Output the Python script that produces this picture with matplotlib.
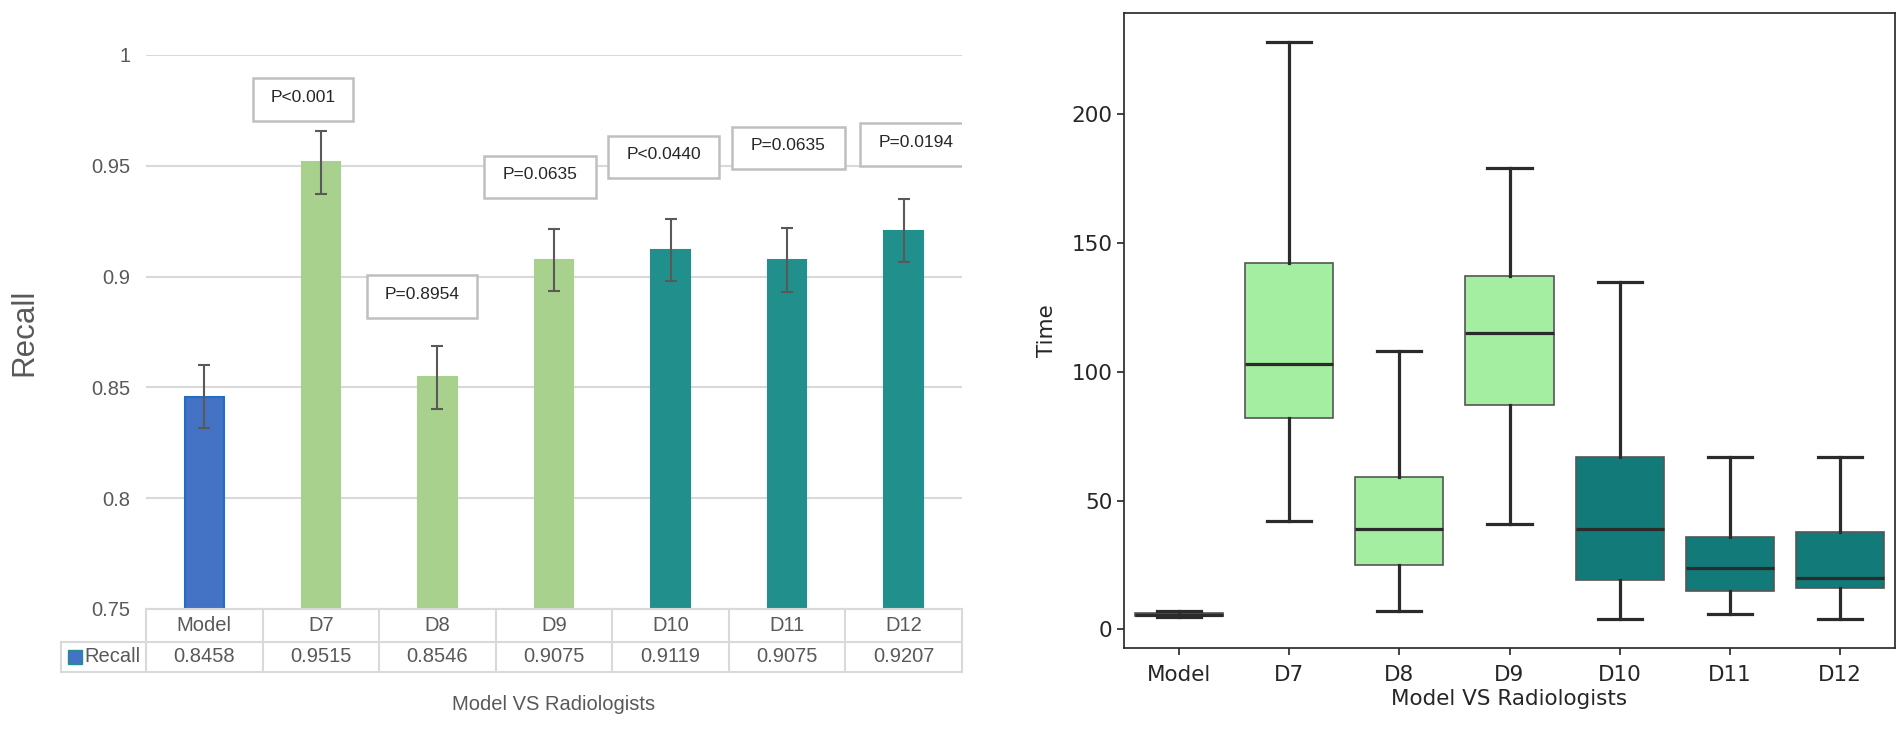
import numpy as np
import matplotlib.pyplot as plt
import matplotlib.transforms as mtransforms
from matplotlib.patches import Rectangle

categories = ["Model", "D7", "D8", "D9", "D10", "D11", "D12"]

# left: recall with error bars
recall = [0.8458, 0.9515, 0.8546, 0.9075, 0.9119, 0.9075, 0.9207]
recall_err = [0.0143, 0.0142, 0.0142, 0.0141, 0.0141, 0.0143, 0.0142]
p_labels = ["P<0.001", "P=0.8954", "P=0.0635", "P<0.0440", "P=0.0635", "P=0.0194"]
recall_ticks = [0.75, 0.8, 0.85, 0.9, 0.95, 1.0]
recall_tick_labels = ["0.75", "0.8", "0.85", "0.9", "0.95", "1"]

# right: reading time box plots
time_wlo = [5.0, 42, 7, 41, 4, 6, 4]
time_q1 = [5.3, 82, 25, 87, 19, 15, 16]
time_med = [5.6, 103, 39, 115, 39, 24, 20]
time_q3 = [6.5, 142, 59, 137, 67, 36, 38]
time_whi = [7.0, 228, 108, 179, 135, 67, 67]

# annotation box layout (x centre, y centre, width) in data units
p_pos = [(0.85, 0.980, 0.86), (1.87, 0.891, 0.94), (2.88, 0.945, 0.96),
         (3.94, 0.954, 0.95), (5.01, 0.958, 0.97), (6.11, 0.9595, 0.97)]

bar_colors = ["#4472C4", "#A9D18E", "#A9D18E", "#A9D18E", "#21908C", "#21908C", "#21908C"]
bar_edges = ["#1F6FC5", "#A9D18E", "#A9D18E", "#A9D18E", "#21908C", "#21908C", "#21908C"]
box_colors = ["#4a4a4a", "#a3eea0", "#a3eea0", "#a3eea0", "#127a78", "#127a78", "#127a78"]

grey = "#595959"
line_grey = "#d9d9d9"

fig = plt.figure(figsize=(19.02, 7.29), dpi=100)

# ---------------- left panel (Excel-like) ----------------
ax1 = fig.add_axes([146 / 1902, 1 - 609 / 729, 816 / 1902, 554 / 729])
x = np.arange(len(categories))
ax1.bar(x, recall, width=0.33, color=bar_colors, edgecolor=bar_edges, linewidth=1.5,
        yerr=recall_err, capsize=4,
        error_kw=dict(ecolor=grey, elinewidth=1.5, capthick=1.5), zorder=2)
ax1.set_xlim(-0.5, len(categories) - 0.5)
ax1.set_ylim(0.75, 1.0)
ax1.set_yticks(recall_ticks)
ax1.set_yticklabels(recall_tick_labels, family="Liberation Sans", fontsize=14.5, color=grey)
ax1.tick_params(axis="y", length=0, pad=11)
ax1.set_xticks([])
ax1.yaxis.grid(True, color=line_grey, linewidth=1.5)
ax1.set_axisbelow(True)
for s in ax1.spines.values():
    s.set_visible(False)

for lab, (cx, cy, w) in zip(p_labels, p_pos):
    h = 0.0192
    ax1.add_patch(Rectangle((cx - w / 2, cy - h / 2), w, h, facecolor="white",
                            edgecolor="#bfbfbf", linewidth=1.8, zorder=4))
    ax1.text(cx, cy + 0.001, lab, ha="center", va="center", fontsize=12.5,
             family="Liberation Sans", color="#262626", zorder=5)

# data table under the chart
trans = mtransforms.blended_transform_factory(ax1.transData, ax1.transAxes)
y_top, y_mid, y_bot = 0.0, -33 / 554, -63 / 554
x_leg = -1.23
lkw = dict(color=line_grey, linewidth=1.5, transform=trans, clip_on=False)
ax1.plot([-0.5, 6.5], [y_top, y_top], **lkw)
ax1.plot([x_leg, 6.5], [y_mid, y_mid], **lkw)
ax1.plot([x_leg, 6.5], [y_bot, y_bot], **lkw)
ax1.plot([x_leg, x_leg], [y_mid, y_bot], **lkw)
for k in range(len(categories) + 1):
    ax1.plot([k - 0.5, k - 0.5], [y_top, y_bot], **lkw)
for i, (c, v) in enumerate(zip(categories, recall)):
    ax1.text(i, (y_top + y_mid) / 2, c, ha="center", va="center", fontsize=14.5,
             family="Liberation Sans", color=grey, transform=trans)
    ax1.text(i, (y_mid + y_bot) / 2, f"{v:.4f}", ha="center", va="center", fontsize=14.5,
             family="Liberation Sans", color=grey, transform=trans)
ax1.plot([-1.11], [(y_mid + y_bot) / 2], marker="s", markersize=10,
         markerfacecolor="#4472C4", markeredgecolor="#21908C", markeredgewidth=1,
         transform=trans, clip_on=False, linestyle="none")
ax1.text(-1.03, (y_mid + y_bot) / 2, "Recall", ha="left", va="center", fontsize=14.5,
         family="Liberation Sans", color=grey, transform=trans)

ax1.text(0.5, -0.172, "Model VS Radiologists", ha="center", va="center", fontsize=14.5,
         family="Liberation Sans", color=grey, transform=ax1.transAxes)
ax1.text(-0.1495, 0.5, "Recall", ha="center", va="center", rotation=90, fontsize=22.5,
         family="Liberation Sans", color=grey, transform=ax1.transAxes)

# ---------------- right panel (seaborn-like box plot) ----------------
ax2 = fig.add_axes([1124 / 1902, 81 / 729, 771 / 1902, 635 / 729])
stats = []
for i, c in enumerate(categories):
    stats.append(dict(label=c, whislo=time_wlo[i], q1=time_q1[i], med=time_med[i],
                      q3=time_q3[i], whishi=time_whi[i], fliers=[]))
dark = "#2b2b2b"
bp = ax2.bxp(stats, positions=x, widths=0.8, patch_artist=True, showfliers=False,
             capwidths=0.4,
             boxprops=dict(edgecolor="#555555", linewidth=1.2),
             whiskerprops=dict(color=dark, linewidth=2.3),
             capprops=dict(color=dark, linewidth=2.3),
             medianprops=dict(color=dark, linewidth=2.3))
for patch, col in zip(bp["boxes"], box_colors):
    patch.set_facecolor(col)
ax2.set_xlim(-0.5, len(categories) - 0.5)
ax2.set_yticks([0, 50, 100, 150, 200])
ax2.set_xticks(x)
ax2.set_xticklabels(categories)
ax2.tick_params(labelsize=15.5, length=5, width=1.25, color=dark, labelcolor="#262626")
ax2.tick_params(axis="x", pad=7)
for s in ax2.spines.values():
    s.set_linewidth(1.25)
    s.set_color(dark)
ax2.set_xlabel("Model VS Radiologists", fontsize=15.5, color="#262626", labelpad=3)
ax2.set_ylabel("Time", fontsize=15.5, color="#262626", labelpad=10)

fig.savefig("out.png", dpi=100)
